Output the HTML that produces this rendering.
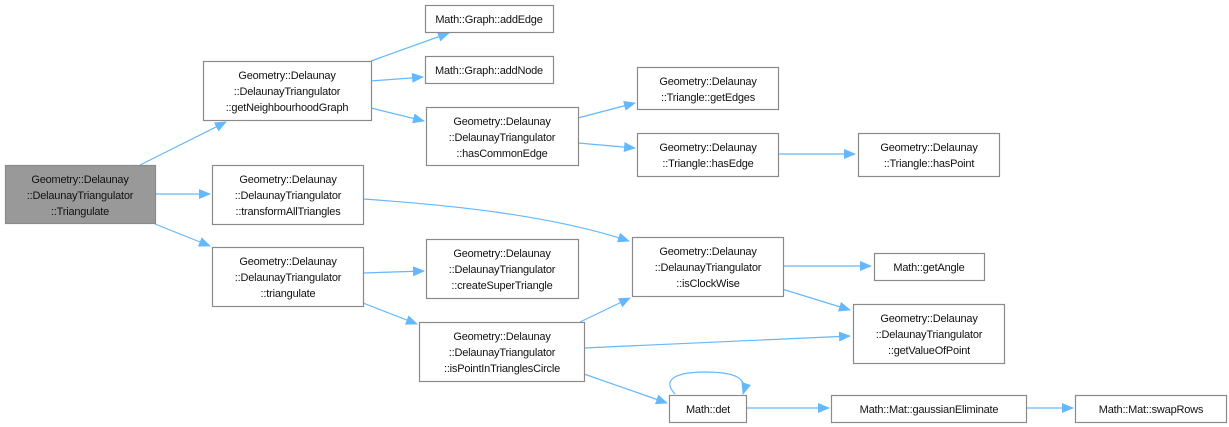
<!DOCTYPE html>
<html><head><meta charset="utf-8"><style>
html,body{margin:0;padding:0;background:#fff;}
svg{display:block;}
text{font-family:"Liberation Sans",sans-serif;font-size:11px;letter-spacing:-0.2px;fill:#111;}
</style></head><body>
<svg width="1229" height="427" viewBox="0 0 1229 427" xmlns="http://www.w3.org/2000/svg">
<defs>
<marker id="a" markerWidth="12" markerHeight="10" refX="11" refY="5" orient="auto" markerUnits="userSpaceOnUse">
<path d="M0,0 L12,5 L0,10 Z" fill="#63b8ff"/>
</marker>
</defs>
<g fill="none" stroke="#63b8ff" stroke-width="1.2" marker-end="url(#a)">
<path d="M140,165 L226,122"/>
<path d="M155,194 L210,194"/>
<path d="M155,224 L210,246"/>
<path d="M371,61 L449,33"/>
<path d="M371,81 L423,77"/>
<path d="M371,108 L424,121"/>
<path d="M578,118 L635,103"/>
<path d="M578,143 L635,148"/>
<path d="M778,154 L855,154"/>
<path d="M363,199 C450,205 550,215 629,241"/>
<path d="M363,273 L424,271"/>
<path d="M363,303 L417,324"/>
<path d="M580,322 L630,298"/>
<path d="M584,348 L850,336"/>
<path d="M584,374 L667,403"/>
<path d="M782,266 L871,266"/>
<path d="M782,289 L850,310"/>
<path d="M746,408 L829,408"/>
<path d="M1026,408 L1073,408"/>
<path d="M675,394 C660,378 680,372 705,372 C735,372 748,378 743,394"/>
</g>
<g stroke="#8a8a8a" stroke-width="1.2" fill="#fff">
<rect x="5.5" y="165.5" width="150" height="58" fill="#999"/>
<rect x="203.5" y="61.5" width="168" height="59"/>
<rect x="212.5" y="165.5" width="151" height="59"/>
<rect x="212.5" y="247.5" width="151" height="59"/>
<rect x="425.5" y="5.5" width="128" height="27"/>
<rect x="425.5" y="56.5" width="128" height="27"/>
<rect x="426.5" y="107.5" width="152" height="58"/>
<rect x="426.5" y="239.5" width="152" height="59"/>
<rect x="419.5" y="322.5" width="165" height="59"/>
<rect x="637.5" y="67.5" width="141" height="42"/>
<rect x="637.5" y="133.5" width="141" height="43"/>
<rect x="858.5" y="133.5" width="141" height="43"/>
<rect x="632.5" y="237.5" width="151" height="59"/>
<rect x="874.5" y="253.5" width="110" height="27"/>
<rect x="853.5" y="304.5" width="151" height="59"/>
<rect x="669.5" y="395.5" width="77" height="27"/>
<rect x="831.5" y="395.5" width="195" height="27"/>
<rect x="1075.5" y="395.5" width="151" height="27"/>
</g>
<g text-anchor="middle">
<text x="80" y="183">Geometry::Delaunay</text><text x="80" y="199">::DelaunayTriangulator</text><text x="80" y="215">::Triangulate</text>
<text x="287" y="79">Geometry::Delaunay</text><text x="287" y="95">::DelaunayTriangulator</text><text x="287" y="111">::getNeighbourhoodGraph</text>
<text x="288" y="183">Geometry::Delaunay</text><text x="288" y="199">::DelaunayTriangulator</text><text x="288" y="215">::transformAllTriangles</text>
<text x="288" y="265">Geometry::Delaunay</text><text x="288" y="281">::DelaunayTriangulator</text><text x="288" y="297">::triangulate</text>
<text x="489" y="23">Math::Graph::addEdge</text>
<text x="489" y="74">Math::Graph::addNode</text>
<text x="502" y="125">Geometry::Delaunay</text><text x="502" y="141">::DelaunayTriangulator</text><text x="502" y="157">::hasCommonEdge</text>
<text x="502" y="257">Geometry::Delaunay</text><text x="502" y="273">::DelaunayTriangulator</text><text x="502" y="289">::createSuperTriangle</text>
<text x="502" y="340">Geometry::Delaunay</text><text x="502" y="356">::DelaunayTriangulator</text><text x="502" y="372">::isPointInTrianglesCircle</text>
<text x="708" y="85">Geometry::Delaunay</text><text x="708" y="101">::Triangle::getEdges</text>
<text x="708" y="151">Geometry::Delaunay</text><text x="708" y="167">::Triangle::hasEdge</text>
<text x="929" y="151">Geometry::Delaunay</text><text x="929" y="167">::Triangle::hasPoint</text>
<text x="708" y="255">Geometry::Delaunay</text><text x="708" y="271">::DelaunayTriangulator</text><text x="708" y="287">::isClockWise</text>
<text x="929" y="271">Math::getAngle</text>
<text x="929" y="322">Geometry::Delaunay</text><text x="929" y="338">::DelaunayTriangulator</text><text x="929" y="354">::getValueOfPoint</text>
<text x="708" y="413">Math::det</text>
<text x="929" y="413">Math::Mat::gaussianEliminate</text>
<text x="1151" y="413">Math::Mat::swapRows</text>
</g>
</svg>
</body></html>
